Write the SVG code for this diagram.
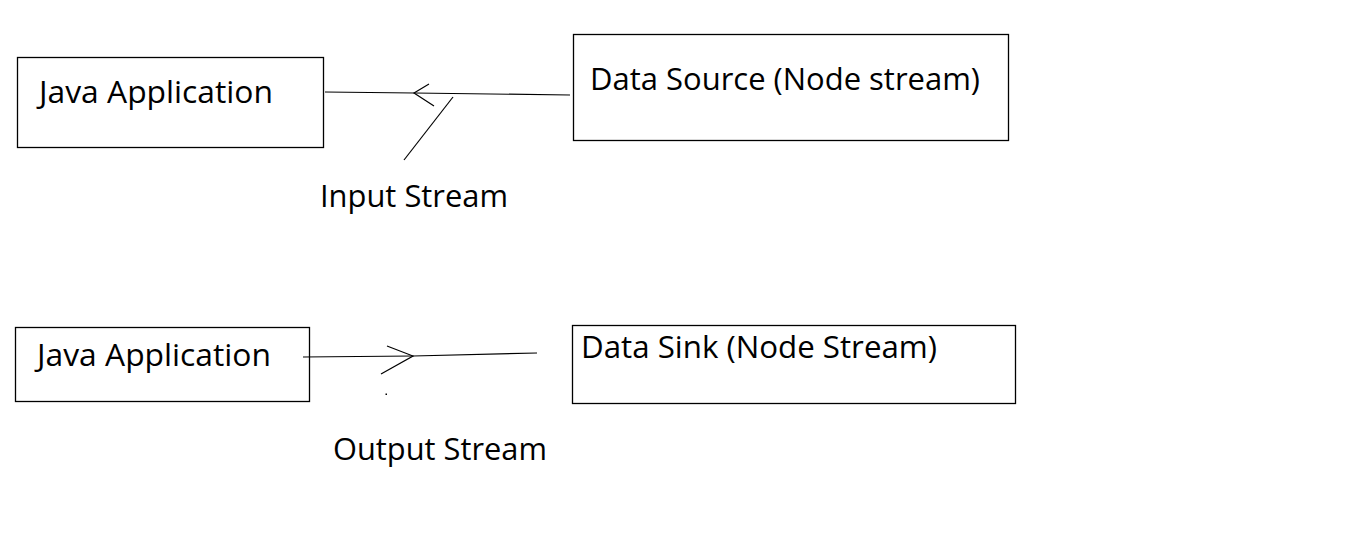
<svg xmlns="http://www.w3.org/2000/svg" width="1360" height="540" viewBox="0 0 1360 540">
<style>
.box{fill:#fff;stroke:#000;stroke-width:1.3}
.t{font-family:"Open Sans","Noto Sans","DejaVu Sans",sans-serif;font-size:30.5px;fill:#000}
.c{fill:none;stroke:#000;stroke-width:1.2}
</style>
<rect width="1360" height="540" fill="#fff"/>
<g id="java-app-1"><rect class="box" x="17.5" y="57.5" width="306" height="90"/><text class="t" x="39" y="103" textLength="234" lengthAdjust="spacingAndGlyphs">Java Application</text></g>
<g id="data-source"><rect class="box" x="573.5" y="34.5" width="435" height="106"/><text class="t" x="590" y="90" textLength="390" lengthAdjust="spacingAndGlyphs">Data Source (Node stream)</text></g>
<g id="java-app-2"><rect class="box" x="15.5" y="327.5" width="294" height="74"/><text class="t" x="37" y="366" textLength="234" lengthAdjust="spacingAndGlyphs">Java Application</text></g>
<g id="data-sink"><rect class="box" x="572.5" y="325.5" width="443" height="78"/><text class="t" x="581" y="358" textLength="356" lengthAdjust="spacingAndGlyphs">Data Sink (Node Stream)</text></g>
<g id="connectors">
<polyline class="c" points="325,92 414,93 570,95"/>
<polyline class="c" points="429,84 414,93 434,106"/>
<line class="c" x1="453" y1="97" x2="404" y2="160"/>
<text class="t" x="320" y="207" textLength="188" lengthAdjust="spacingAndGlyphs">Input Stream</text>
<polyline class="c" points="303,357 413,356 537,353"/>
<polyline class="c" points="387,346 413,356 381,374"/>
<rect x="385.5" y="393.5" width="1.5" height="1.5" fill="#000"/>
<text class="t" x="333" y="460" textLength="214" lengthAdjust="spacingAndGlyphs">Output Stream</text>
</g>
</svg>
